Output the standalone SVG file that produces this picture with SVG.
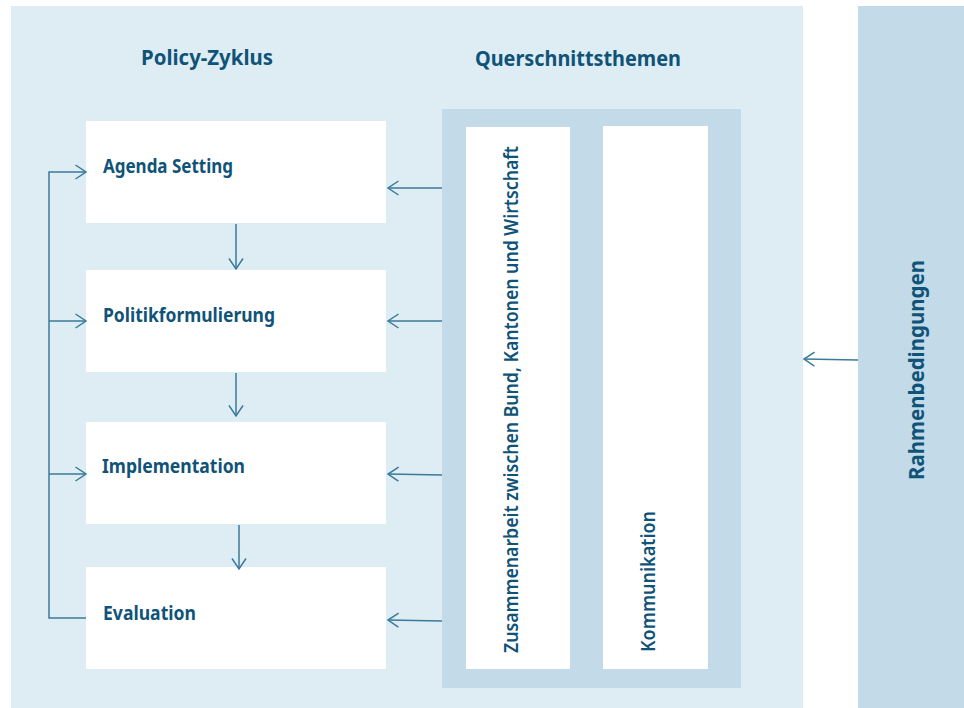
<svg xmlns="http://www.w3.org/2000/svg" width="964" height="708" viewBox="0 0 964 708">
<style>
.panel{fill:#deedf4}
.dark{fill:#c3dbe8}
.box{fill:#ffffff}
.hdr{font-family:"Noto Sans","Liberation Sans",sans-serif;font-weight:700;font-size:22px;fill:#0f5378}
.lbl{font-family:"Noto Sans","Liberation Sans",sans-serif;font-weight:700;font-size:19px;fill:#0f5378}
.vt{font-family:"Noto Sans","Liberation Sans",sans-serif;font-weight:600;font-size:20px;fill:#0f5378}
.con{fill:none;stroke:#3a7a9a;stroke-width:1.5}
</style>
<defs>
<marker id="arr" markerUnits="userSpaceOnUse" markerWidth="14" markerHeight="18" refX="12" refY="8" orient="auto" viewBox="0 0 14 16">
<path d="M1.5,1 L12,8 L1.5,15" fill="none" stroke="#3a7a9a" stroke-width="1.5"/>
</marker>
</defs>
<rect width="964" height="708" fill="#ffffff"/>
<g id="policy-panel">
<rect class="panel" x="11" y="6" width="792" height="702"/>
<text class="hdr" x="141" y="65" textLength="132" lengthAdjust="spacingAndGlyphs">Policy-Zyklus</text>
<text class="hdr" x="475" y="66" textLength="206" lengthAdjust="spacingAndGlyphs">Querschnittsthemen</text>
</g>
<g id="rahmen">
<rect class="dark" x="858" y="6" width="106" height="702"/>
<text class="hdr" transform="translate(924,480) rotate(-90)" x="0" y="0" textLength="220" lengthAdjust="spacingAndGlyphs">Rahmenbedingungen</text>
</g>
<g id="querschnitt">
<rect class="dark" x="442" y="109" width="299" height="579"/>
</g>
<g id="zusammenarbeit">
<rect class="box" x="466" y="127" width="104" height="542"/>
<text class="vt" transform="translate(518,653) rotate(-90)" x="0" y="0" textLength="507" lengthAdjust="spacingAndGlyphs">Zusammenarbeit zwischen Bund, Kantonen und Wirtschaft</text>
</g>
<g id="kommunikation">
<rect class="box" x="603" y="126" width="105" height="543"/>
<text class="vt" transform="translate(655,652) rotate(-90)" x="0" y="0" textLength="141" lengthAdjust="spacingAndGlyphs">Kommunikation</text>
</g>
<g id="agenda">
<rect class="box" x="86" y="121" width="300" height="102"/>
<text class="lbl" x="103" y="173" textLength="130" lengthAdjust="spacingAndGlyphs">Agenda Setting</text>
</g>
<g id="politik">
<rect class="box" x="86" y="270" width="300" height="102"/>
<text class="lbl" x="103" y="322" textLength="172" lengthAdjust="spacingAndGlyphs">Politikformulierung</text>
</g>
<g id="implementation">
<rect class="box" x="86" y="422" width="300" height="102"/>
<text class="lbl" x="102" y="473" textLength="143" lengthAdjust="spacingAndGlyphs">Implementation</text>
</g>
<g id="evaluation">
<rect class="box" x="86" y="567" width="300" height="102"/>
<text class="lbl" x="103" y="620" textLength="93" lengthAdjust="spacingAndGlyphs">Evaluation</text>
</g>
<g id="connectors">
<line class="con" x1="236" y1="224" x2="236" y2="269" marker-end="url(#arr)"/>
<line class="con" x1="236" y1="373" x2="236" y2="416" marker-end="url(#arr)"/>
<line class="con" x1="239" y1="525" x2="239" y2="569" marker-end="url(#arr)"/>
<line class="con" x1="442" y1="188" x2="388" y2="188" marker-end="url(#arr)"/>
<line class="con" x1="442" y1="321" x2="388" y2="321" marker-end="url(#arr)"/>
<line class="con" x1="442" y1="475" x2="388" y2="474" marker-end="url(#arr)"/>
<line class="con" x1="442" y1="621" x2="388" y2="620" marker-end="url(#arr)"/>
<line class="con" x1="858" y1="360" x2="804" y2="359" marker-end="url(#arr)"/>
<polyline class="con" points="86,618 49,618 49,172 86,172" marker-end="url(#arr)"/>
<line class="con" x1="49" y1="321" x2="86" y2="321" marker-end="url(#arr)"/>
<line class="con" x1="49" y1="474" x2="86" y2="474" marker-end="url(#arr)"/>
</g>
</svg>
